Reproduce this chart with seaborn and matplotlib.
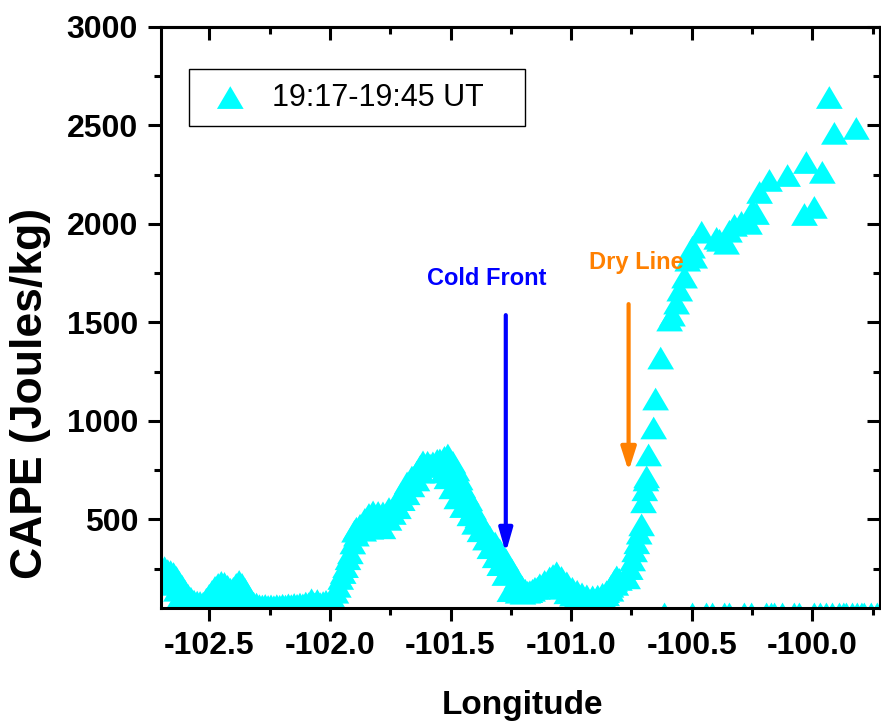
import numpy as np
import pandas as pd
import matplotlib
matplotlib.use("Agg")
import matplotlib.pyplot as plt
import seaborn as sns
from matplotlib.path import Path
from matplotlib.markers import MarkerStyle
from matplotlib.ticker import MultipleLocator

# ---------------- data ----------------
# western low-CAPE cluster, upper track
lon_west_a = [-102.705, -102.695, -102.685, -102.672, -102.660, -102.648, -102.636, -102.624,
              -102.612, -102.600, -102.588, -102.576, -102.563, -102.550, -102.538, -102.525,
              -102.512, -102.500, -102.488, -102.476, -102.463, -102.450, -102.437, -102.424,
              -102.412, -102.400, -102.388, -102.376, -102.364, -102.352, -102.340, -102.328,
              -102.316]
cape_west_a = [250, 245, 255, 240, 235, 225, 205, 180,
               160, 135, 115, 100, 85, 80, 78, 75,
               95, 115, 135, 155, 170, 180, 175, 160,
               145, 150, 170, 185, 170, 145, 115, 90,
               75]
# western cluster, lower track
lon_west_b = [-102.700, -102.690, -102.676, -102.664, -102.650, -102.636, -102.620, -102.604,
              -102.588, -102.570, -102.552, -102.534, -102.516, -102.498, -102.480, -102.462,
              -102.444, -102.426, -102.408, -102.390, -102.372, -102.354]
cape_west_b = [210, 200, 205, 195, 170, 140, 110, 90,
               70, 60, 58, 62, 70, 75, 80, 100,
               115, 95, 80, 65, 62, 70]
# flat minimum
lon_flat = [-102.304, -102.292, -102.280, -102.268, -102.256, -102.244, -102.232, -102.220,
            -102.208, -102.196, -102.184, -102.172, -102.160, -102.148, -102.136, -102.124,
            -102.112, -102.100, -102.088, -102.076, -102.064, -102.052, -102.040, -102.028,
            -102.016, -102.004, -101.992]
cape_flat = [70, 62, 60, 63, 58, 61, 57, 62,
             59, 64, 60, 66, 62, 68, 64, 70,
             66, 75, 72, 92, 70, 88, 72, 78,
             84, 70, 78]
# rise to the first hump
lon_rise = [-101.985, -101.975, -101.965, -101.955, -101.945, -101.935, -101.925, -101.915,
            -101.905, -101.898]
cape_rise = [95, 130, 160, 200, 230, 260, 300, 330,
             380, 440]
# hump, upper track
lon_hump_a = [-101.890, -101.875, -101.855, -101.838, -101.821, -101.800, -101.780, -101.755,
              -101.730, -101.705, -101.680, -101.660, -101.639, -101.625, -101.614, -101.595,
              -101.573, -101.555, -101.544, -101.525, -101.511, -101.490, -101.474, -101.460,
              -101.449, -101.435, -101.420, -101.405, -101.387, -101.365, -101.337, -101.315,
              -101.296, -101.270, -101.246, -101.225, -101.204]
cape_hump_a = [455, 470, 500, 525, 538, 535, 533, 555,
               574, 630, 685, 715, 741, 770, 792, 790,
               787, 800, 802, 815, 827, 790, 751, 705,
               665, 630, 599, 555, 513, 465, 411, 380,
               345, 295, 244, 200, 158]
# hump, lower track
lon_hump_b = [-101.890, -101.860, -101.830, -101.800, -101.780, -101.755, -101.737, -101.716,
              -101.700, -101.680, -101.660, -101.639, -101.620, -101.600, -101.585, -101.560,
              -101.544, -101.530, -101.515, -101.495, -101.474, -101.450, -101.420, -101.400,
              -101.378, -101.355, -101.337, -101.315, -101.296, -101.275, -101.254]
cape_hump_b = [420, 445, 455, 460, 457, 500, 530, 559,
               600, 630, 670, 700, 740, 770, 776, 776,
               770, 740, 711, 660, 609, 565, 523, 480,
               442, 400, 356, 310, 270, 220, 138]
# trough between fronts, upper track
lon_mid_a = [-101.190, -101.171, -101.150, -101.130, -101.110, -101.089, -101.075, -101.060,
             -101.040, -101.018, -100.995, -100.975, -100.955, -100.935, -100.911, -100.890,
             -100.870, -100.853, -100.835, -100.820, -100.811]
cape_mid_a = [140, 133, 150, 168, 185, 203, 215, 229,
              205, 178, 150, 135, 122, 112, 107, 110,
              120, 133, 160, 190, 208]
# trough between fronts, lower track
lon_mid_b = [-101.242, -101.220, -101.200, -101.180, -101.160, -101.140, -101.118, -101.100,
             -101.080, -101.060, -101.040, -101.018, -100.995, -100.975, -100.955, -100.935,
             -100.911, -100.890, -100.870, -100.853, -100.835, -100.815, -100.800]
cape_mid_b = [138, 130, 125, 130, 140, 150, 163, 160,
              170, 178, 150, 127, 115, 110, 105, 100,
              100, 105, 112, 117, 140, 170, 195]
# steep rise east of the dry line
lon_steep = [-100.766, -100.755, -100.745, -100.737, -100.728, -100.718, -100.708, -100.700,
             -100.695, -100.690, -100.687, -100.679, -100.658, -100.650, -100.629, -100.592,
             -100.580, -100.563, -100.550, -100.530, -100.517, -100.497, -100.488]
cape_steep = [203, 250, 294, 340, 381, 430, 472, 589,
              650, 700, 716, 827, 964, 1111, 1319, 1512,
              1537, 1598, 1664, 1730, 1816, 1882, 1831]
# high-CAPE eastern points
lon_east = [-100.459, -100.397, -100.385, -100.356, -100.344, -100.323, -100.294, -100.261,
            -100.248, -100.232, -100.219, -100.178, -100.103, -100.033, -100.025, -99.992,
            -99.959, -99.930, -99.909, -99.818]
cape_east = [1958, 1927, 1917, 1902, 1963, 1993, 2008, 2003,
             2069, 2053, 2160, 2221, 2246, 2048, 2312, 2084,
             2262, 2642, 2460, 2485]
# near-zero CAPE points (mostly below the axis)
lon_zero = [-100.613, -100.497, -100.439, -100.414, -100.364, -100.344, -100.282, -100.252,
            -100.190, -100.170, -100.157, -100.124, -100.075, -100.054, -99.992, -99.967,
            -99.942, -99.917, -99.888, -99.870, -99.859, -99.834, -99.814, -99.795,
            -99.785, -99.756, -99.731]
cape_zero = [20, 20, 20, 20, 20, 20, 20, 20,
             20, 20, 20, 20, 20, 20, 20, 20,
             20, 20, 20, 20, 20, 20, 20, 20,
             20, 20, 20]

x_ticks = [-102.5, -102.0, -101.5, -101.0, -100.5, -100.0]
x_tick_labels = ["-102.5", "-102.0", "-101.5", "-101.0", "-100.5", "-100.0"]
y_ticks = [500, 1000, 1500, 2000, 2500, 3000]
y_tick_labels = ["500", "1000", "1500", "2000", "2500", "3000"]
series_label = "19:17-19:45 UT"

lon = (lon_west_a + lon_west_b + lon_flat + lon_rise + lon_hump_a + lon_hump_b
       + lon_mid_a + lon_mid_b + lon_steep + lon_east + lon_zero)
cape = (cape_west_a + cape_west_b + cape_flat + cape_rise + cape_hump_a + cape_hump_b
        + cape_mid_a + cape_mid_b + cape_steep + cape_east + cape_zero)
df = pd.DataFrame({"Longitude": lon, "CAPE": cape})

# ---------------- style ----------------
sns.set_theme(style="white")
plt.rcParams["font.family"] = ["Liberation Sans", "DejaVu Sans"]
plt.rcParams["text.color"] = "black"
plt.rcParams["axes.labelcolor"] = "black"
plt.rcParams["xtick.color"] = "black"
plt.rcParams["ytick.color"] = "black"

fig = plt.figure(figsize=(8.81, 7.22), dpi=100)
ax = fig.add_axes([161 / 881, 1 - 608 / 722, 719 / 881, 581 / 722])

tri = Path([(0, 0.85), (-1, -0.85), (1, -0.85), (0, 0.85)],
           [Path.MOVETO, Path.LINETO, Path.LINETO, Path.CLOSEPOLY])
sns.scatterplot(data=df, x="Longitude", y="CAPE", marker=MarkerStyle(tri), s=370,
                color="#00FFFF", linewidth=0, edgecolor="none", label=series_label,
                ax=ax, zorder=2)

ax.set_xlim(-102.70, -99.72)
ax.set_ylim(50, 3000)

ax.set_xticks(x_ticks, x_tick_labels, fontsize=23, fontweight="bold", color="black")
ax.set_yticks(y_ticks, y_tick_labels, fontsize=23, fontweight="bold", color="black")
ax.xaxis.set_minor_locator(MultipleLocator(0.25))
ax.yaxis.set_minor_locator(MultipleLocator(250))
ax.tick_params(which="major", direction="out", length=9.5, width=2.2, color="black",
               labelcolor="black", pad=7, bottom=True, left=True, top=False, right=False)
ax.tick_params(which="minor", direction="out", length=5, width=2.2, color="black",
               bottom=True, left=True, top=False, right=False)
for sp in ax.spines.values():
    sp.set_linewidth(2.2)
    sp.set_color("black")

secx = ax.secondary_xaxis("top")
secx.set_xticks(x_ticks)
secx.xaxis.set_minor_locator(MultipleLocator(0.25))
secx.tick_params(which="major", direction="in", length=9.5, width=2.2, color="black",
                 labeltop=False, top=True)
secx.tick_params(which="minor", direction="in", length=5, width=2.2, color="black", top=True)
secx.spines["top"].set_linewidth(2.2)
secx.spines["top"].set_color("black")

secy = ax.secondary_yaxis("right")
secy.set_yticks(y_ticks)
secy.yaxis.set_minor_locator(MultipleLocator(250))
secy.tick_params(which="major", direction="in", length=9.5, width=2.2, color="black",
                 labelright=False, right=True)
secy.tick_params(which="minor", direction="in", length=5, width=2.2, color="black", right=True)
secy.spines["right"].set_linewidth(2.2)
secy.spines["right"].set_color("black")

ax.set_xlabel("Longitude", fontsize=24, fontweight="bold", va="center", color="black")
ax.xaxis.set_label_coords(0.503, -0.168)
ax.set_ylabel("CAPE (Joules/kg)", fontsize=32, fontweight="bold", va="center", color="black")
ax.yaxis.set_label_coords(-0.182, 0.370)

leg = ax.legend(loc="upper left", bbox_to_anchor=(0.039, 0.828, 0.467, 0.1),
                mode="expand", borderaxespad=0,
                frameon=True, fancybox=False, edgecolor="black", framealpha=1,
                prop={"size": 22, "weight": "normal"}, borderpad=0.45,
                handlelength=1.8, handletextpad=0.45, scatterpoints=1)
leg.get_frame().set_linewidth(1.0)
for t in leg.get_texts():
    t.set_color("black")

# annotations
ax.text(-101.349, 1724, "Cold Front", color="#0000FF", fontsize=17, fontweight="bold",
        ha="center", va="center", zorder=4)
ax.annotate("", xy=(-101.271, 330), xytext=(-101.271, 1537),
            arrowprops=dict(arrowstyle="-|>,head_length=1.4,head_width=0.4", color="#0000FF",
                            lw=3, shrinkA=0, shrinkB=0, mutation_scale=10), zorder=4)
ax.text(-100.728, 1806, "Dry Line", color="#FF8000", fontsize=17, fontweight="bold",
        ha="center", va="center", zorder=4)
ax.annotate("", xy=(-100.762, 745), xytext=(-100.762, 1593),
            arrowprops=dict(arrowstyle="-|>,head_length=1.4,head_width=0.45", color="#FF8000",
                            lw=3, shrinkA=0, shrinkB=0, mutation_scale=10), zorder=4)

fig.savefig("out.png", dpi=100)
